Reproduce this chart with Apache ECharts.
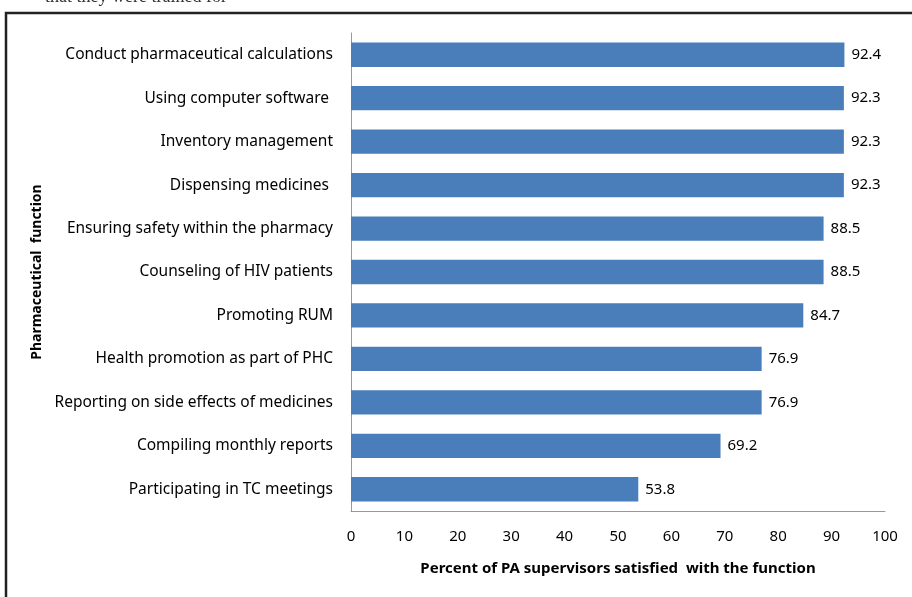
<!DOCTYPE html>
<html>
<head>
<meta charset="utf-8">
<script src="https://cdn.jsdelivr.net/npm/echarts@6/dist/echarts.min.js"></script>
<style>
  html, body { margin: 0; padding: 0; background: #fff; }
  #chart { width: 912px; height: 597px; }
</style>
</head>
<body>
<div id="chart"></div>
<script>
// functions, top to bottom
var functions = [
  "Conduct pharmaceutical calculations",
  "Using computer software ",
  "Inventory management",
  "Dispensing medicines ",
  "Ensuring safety within the pharmacy",
  "Counseling of HIV patients",
  "Promoting RUM",
  "Health promotion as part of PHC",
  "Reporting on side effects of medicines",
  "Compiling monthly reports",
  "Participating in TC meetings"
];
var satisfied = [92.4, 92.3, 92.3, 92.3, 88.5, 88.5, 84.7, 76.9, 76.9, 69.2, 53.8];
var xTicks = [0, 10, 20, 30, 40, 50, 60, 70, 80, 90, 100];

var font = "'Noto Sans', sans-serif";
var myChart = echarts.init(document.getElementById("chart"));

var option = {
  animation: false,
  backgroundColor: "#fff",
  textStyle: { fontFamily: font },
  graphic: [
    // caption line cut off above the figure
    {
      type: "text", left: 45, top: -12,
      style: { text: "that they were trained for", fontFamily: "'Liberation Serif', serif", fontSize: 18, fill: "#333" }
    },
    // frame
    {
      type: "polyline",
      shape: { points: [[6, 600], [6, 13], [915, 13]] },
      style: { stroke: "#222", lineWidth: 2.5, fill: null }
    }
  ],
  grid: { left: 351, right: 27, top: 33, bottom: 86 },
  xAxis: {
    type: "value",
    min: xTicks[0],
    max: xTicks[xTicks.length - 1],
    interval: 10,
    name: "Percent of PA supervisors satisfied  with the function",
    nameLocation: "middle",
    nameGap: 50,
    nameTextStyle: { fontSize: 15, fontWeight: "bold", color: "#000", fontFamily: font },
    axisLine: { show: true, lineStyle: { color: "#999" } },
    axisTick: { show: false },
    splitLine: { show: false },
    axisLabel: { fontSize: 15, color: "#000", margin: 18, fontFamily: font }
  },
  yAxis: {
    type: "category",
    data: functions,
    inverse: true,
    name: "Pharmaceutical  function",
    nameLocation: "middle",
    nameGap: 300,
    nameTextStyle: { fontSize: 14, fontWeight: "bold", color: "#000", fontFamily: font },
    axisLine: { show: true, lineStyle: { color: "#999" } },
    axisTick: { show: false },
    axisLabel: { fontSize: 15.5, color: "#000", margin: 18, fontFamily: font }
  },
  series: [{
    type: "bar",
    data: satisfied,
    barWidth: "56%",
    itemStyle: { color: "#4a7ebb" },
    label: {
      show: true,
      position: "right",
      distance: 7,
      fontSize: 15,
      color: "#000",
      fontFamily: font,
      formatter: function (p) { return p.value.toFixed(1); }
    }
  }]
};

myChart.setOption(option);
</script>
</body>
</html>
